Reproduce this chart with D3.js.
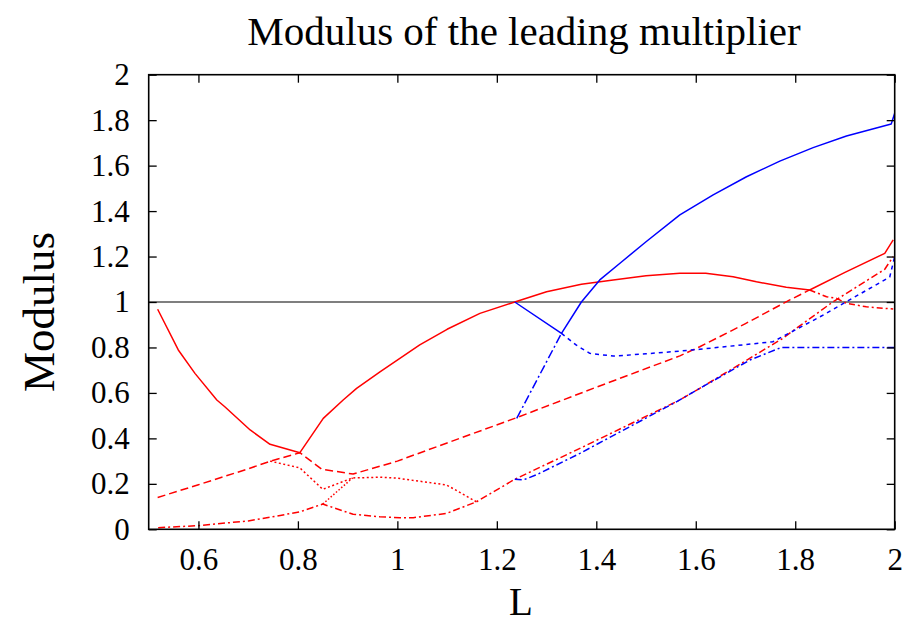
<!DOCTYPE html>
<html>
<head>
<meta charset="utf-8">
<script src="https://cdn.jsdelivr.net/npm/d3@7/dist/d3.min.js"></script>
<style>
  html, body { margin: 0; padding: 0; background: #fff; }
  svg { display: block; }
  text { font-family: "Liberation Serif", "DejaVu Serif", serif; fill: #000; }
</style>
</head>
<body>
<svg id="chart" width="924" height="622"></svg>
<script>
// ---- data: [L, modulus] ----
const xTicks = [0.6, 0.8, 1.0, 1.2, 1.4, 1.6, 1.8, 2.0];
const yTicks = [0, 0.2, 0.4, 0.6, 0.8, 1.0, 1.2, 1.4, 1.6, 1.8, 2.0];

const redSolid = [[0.518,0.968],[0.5595,0.789],[0.593,0.686],[0.637,0.569],[0.653,0.539],[0.704,0.437],[0.744,0.374],[0.804,0.337],
  [0.851,0.488],[0.891,0.569],[0.918,0.62],[0.965,0.693],[1.045,0.811],[1.1,0.88],[1.166,0.95],[1.236,1.0],[1.30,1.045],
  [1.37,1.078],[1.434,1.097],[1.5,1.115],[1.568,1.127],[1.62,1.126],[1.675,1.111],[1.722,1.089],[1.782,1.065],[1.829,1.053],
  [1.9,1.13],[1.98,1.214],[1.997,1.273]];
const redDashed = [[0.518,0.14],[0.6,0.196],[0.7,0.266],[0.745,0.30],[0.804,0.337],[0.848,0.264],[0.911,0.243],[1.0,0.30],
  [1.1,0.38],[1.236,0.488],[1.4,0.625],[1.568,0.763],[1.608,0.803],[1.7,0.905],[1.789,1.009],[1.829,1.053]];
const redDecline = [[1.829,1.053],[1.863,1.023],[1.883,1.016],[1.903,0.994],[1.943,0.979],[1.997,0.969]];
const redDotted = [[0.744,0.30],[0.804,0.27],[0.85,0.176],[0.91,0.226],[0.965,0.229],[1.0,0.225],[1.099,0.195],[1.159,0.121]];
const redDottedLink = [[0.85,0.111],[0.91,0.226]];
const redDashDot = [[0.519,0.007],[0.6,0.016],[0.7,0.037],[0.744,0.053],[0.804,0.077],[0.85,0.111],[0.911,0.066],[0.965,0.055],
  [1.005,0.051],[1.032,0.051],[1.099,0.07],[1.159,0.121],[1.236,0.22],[1.367,0.356],[1.568,0.569],[1.608,0.62],[1.772,0.836],
  [1.876,1.001],[1.98,1.144],[1.997,1.20]];
const blueSolid = [[1.236,1.0],[1.33,0.862],[1.37,1.0],[1.407,1.097],[1.45,1.175],[1.5,1.265],[1.568,1.383],[1.635,1.471],
  [1.702,1.551],[1.769,1.62],[1.836,1.679],[1.903,1.73],[1.993,1.783],[2.0,1.83]];
const blueRise = [[1.24,0.488],[1.33,0.862]];
const blueDotted = [[1.33,0.862],[1.36,0.81],[1.387,0.774],[1.434,0.762],[1.5,0.772],[1.568,0.784],[1.608,0.792],[1.755,0.825],
  [1.85,0.935],[1.99,1.11],[2.0,1.2]];
const blueDashDot = [[1.236,0.22],[1.253,0.217],[1.28,0.24],[1.367,0.334],[1.561,0.561],[1.608,0.62],[1.709,0.745],[1.772,0.80],[2.0,0.80]];

const series = [
  {pts: redDashDot, color: "#ff0000", dash: "7,3,2,3"},
  {pts: redDotted, color: "#ff0000", dash: "2,2.5"},
  {pts: redDottedLink, color: "#ff0000", dash: "1.5,2"},
  {pts: redDashed, color: "#ff0000", dash: "8,4"},
  {pts: redDecline, color: "#ff0000", dash: "6,3,2,3"},
  {pts: redSolid, color: "#ff0000", dash: null},
  {pts: blueDashDot, color: "#0000ff", dash: "7,3,2,3"},
  {pts: blueDotted, color: "#0000ff", dash: "4,4"},
  {pts: blueRise, color: "#0000ff", dash: "9,3,2,3"},
  {pts: blueSolid, color: "#0000ff", dash: null}
];

// ---- layout ----
const svg = d3.select("#chart");
const m = {left: 148.7, right: 894.7, top: 74.7, bottom: 529.3};
const x = d3.scaleLinear().domain([0.5, 2.0]).range([m.left, m.right]);
const y = d3.scaleLinear().domain([0, 2]).range([m.bottom, m.top]);
const fmt = d => String(+d.toFixed(1));
const tickLen = 8;

// reference line at modulus 1
svg.append("line")
  .attr("x1", x(0.5)).attr("x2", x(2.0))
  .attr("y1", y(1)).attr("y2", y(1))
  .attr("stroke", "#000").attr("stroke-width", 1.2);

const line = d3.line().x(d => x(d[0])).y(d => y(d[1]));
const clipId = "plotclip";
svg.append("clipPath").attr("id", clipId).append("rect")
  .attr("x", m.left).attr("y", m.top).attr("width", m.right - m.left).attr("height", m.bottom - m.top);

const g = svg.append("g").attr("clip-path", `url(#${clipId})`);
series.forEach(s => {
  g.append("path").attr("d", line(s.pts))
    .attr("fill", "none").attr("stroke", s.color).attr("stroke-width", 1.5)
    .attr("stroke-dasharray", s.dash).attr("stroke-linejoin", "round");
});

// axes (ticks inward, mirrored)
const tickFont = "31px";
const axB = d3.axisBottom(x).tickValues(xTicks).tickFormat(fmt).tickSizeInner(-tickLen).tickSizeOuter(0).tickPadding(19);
const axT = d3.axisTop(x).tickValues(xTicks).tickFormat("").tickSizeInner(-tickLen).tickSizeOuter(0);
const axL = d3.axisLeft(y).tickValues(yTicks).tickFormat(fmt).tickSizeInner(-tickLen).tickSizeOuter(0).tickPadding(19);
const axR = d3.axisRight(y).tickValues(yTicks).tickFormat("").tickSizeInner(-tickLen).tickSizeOuter(0);

function styleAxis(sel) {
  sel.select(".domain").remove();
  sel.selectAll(".tick line").attr("stroke", "#000").attr("stroke-width", 1.3);
  sel.selectAll(".tick text").style("font-family", '"Liberation Serif", serif').style("font-size", tickFont).attr("fill", "#000");
}
svg.append("g").attr("transform", `translate(0,${m.bottom})`).call(axB).call(styleAxis);
svg.append("g").attr("transform", `translate(0,${m.top})`).call(axT).call(styleAxis);
svg.append("g").attr("transform", `translate(${m.left},0)`).call(axL).call(styleAxis);
svg.append("g").attr("transform", `translate(${m.right},0)`).call(axR).call(styleAxis);

// frame
svg.append("rect")
  .attr("x", m.left).attr("y", m.top).attr("width", m.right - m.left).attr("height", m.bottom - m.top)
  .attr("fill", "none").attr("stroke", "#000").attr("stroke-width", 1.6);

// title & labels
svg.append("text").attr("x", 524).attr("y", 45)
  .attr("text-anchor", "middle").style("font-size", "41px").text("Modulus of the leading multiplier");
svg.append("text").attr("x", 521).attr("y", 615)
  .attr("text-anchor", "middle").style("font-size", "39px").text("L");
svg.append("text").attr("transform", `translate(54,312) rotate(-90)`)
  .attr("text-anchor", "middle").style("font-size", "45px").text("Modulus");
</script>
</body>
</html>
